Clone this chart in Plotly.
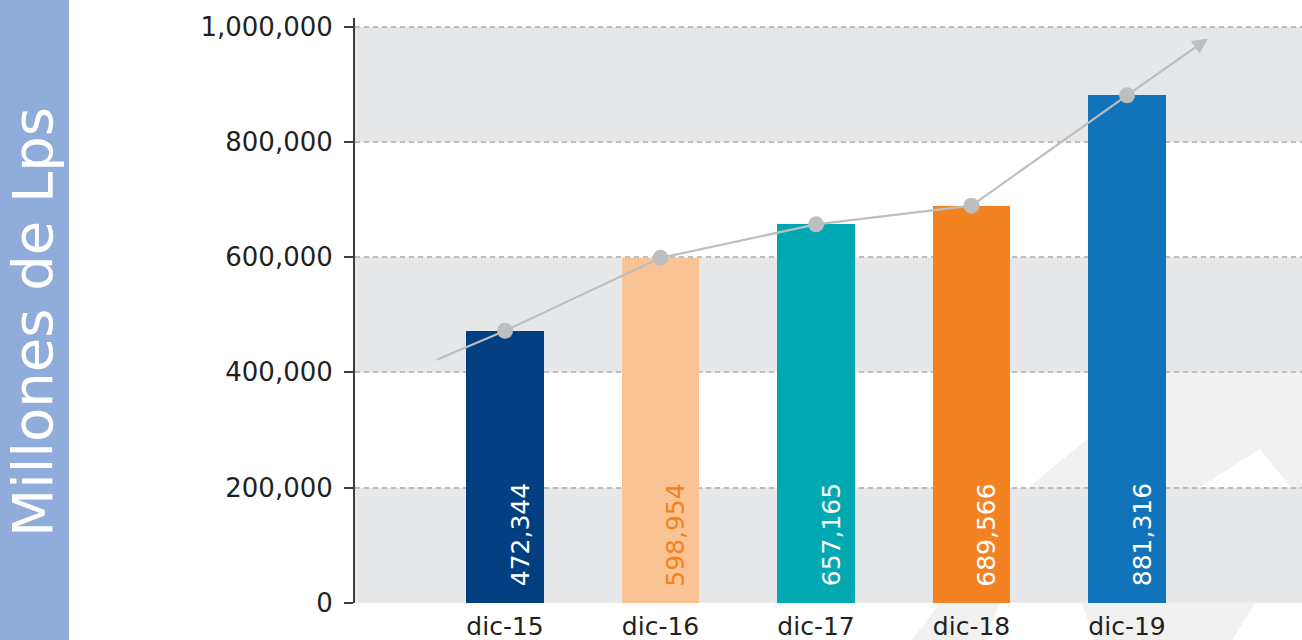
import plotly.graph_objects as go

categories = ["dic-15", "dic-16", "dic-17", "dic-18", "dic-19"]
values = [472344, 598954, 657165, 689566, 881316]
bar_colors = ["#023F80", "#F9C394", "#00A8B1", "#F38322", "#1174BB"]
label_colors = ["#FFFFFF", "#F58220", "#FFFFFF", "#FFFFFF", "#FFFFFF"]
y_ticks = [0, 200000, 400000, 600000, 800000, 1000000]
trend_start = (-0.44, 422000)
trend_end = (4.52, 980000)
y_title = "Millones de Lps"

W, H = 1302, 640
ML, MR, MT, MB = 355, 0, 18, 37
PW, PH = W - ML - MR, H - MT - MB

def px_x(p):
    return (p - ML) / PW

def px_y(p):
    return (H - MB - p) / PH

font_family = "DejaVu Sans"
xs = list(range(len(categories)))

fig = go.Figure()
fig.add_trace(go.Bar(x=xs, y=values, width=0.5, marker=dict(color=bar_colors, line=dict(width=0)),
                     hoverinfo="skip", showlegend=False))
fig.add_trace(go.Scatter(x=[trend_start[0]] + xs, y=[trend_start[1]] + values, mode="lines",
                         line=dict(color="#BCBEC0", width=2.2), showlegend=False, hoverinfo="skip"))
fig.add_trace(go.Scatter(x=xs, y=values, mode="markers",
                         marker=dict(color="#BCBEC0", size=16), showlegend=False, hoverinfo="skip"))

shapes = []
# left strip
shapes.append(dict(type="rect", xref="paper", yref="paper", x0=px_x(0), x1=px_x(69), y0=px_y(H), y1=px_y(0),
                   fillcolor="#8FACDA", line=dict(width=0), layer="below"))
# faint watermark shapes
def poly(points):
    d = "M " + " L ".join(f"{px_x(a):.5f},{px_y(b):.5f}" for a, b in points) + " Z"
    return dict(type="path", xref="paper", yref="paper", path=d, fillcolor="#F1F1F1",
                line=dict(width=0), layer="below")
shapes.append(poly([(1027, 489), (1168, 372), (1302, 372), (1302, 489), (1292, 489), (1260, 449), (1197, 489)]))
shapes.append(poly([(912, 640), (940, 603), (1000, 603), (985, 640)]))
shapes.append(poly([(1082, 603), (1255, 603), (1232, 640), (1095, 640)]))
# grey bands
for lo in [0, 400000, 800000]:
    shapes.append(dict(type="rect", xref="paper", yref="y", x0=0, x1=1, y0=lo, y1=lo + 200000,
                       fillcolor="#E6E7E9", line=dict(width=0), layer="below"))

annotations = []
for x, v, c in zip(xs, values, label_colors):
    annotations.append(dict(x=x, y=0, xref="x", yref="y", text=f"{v:,}", showarrow=False,
                            textangle=-90, xanchor="center", yanchor="bottom", xshift=15, yshift=14,
                            font=dict(family=font_family, size=25, color=c)))
annotations.append(dict(x=trend_end[0], y=trend_end[1], ax=xs[-1], ay=values[-1], xref="x", yref="y",
                        axref="x", ayref="y", text="", showarrow=True, arrowhead=2, arrowsize=1.4,
                        arrowwidth=2.2, arrowcolor="#BCBEC0"))
annotations.append(dict(x=px_x(33), y=px_y(322), xref="paper", yref="paper", text=y_title, showarrow=False,
                        textangle=-90, xanchor="center", yanchor="middle",
                        font=dict(family=font_family, size=56, color="#FFFFFF")))

fig.update_layout(
    width=W, height=H, margin=dict(l=ML, r=MR, t=MT, b=MB, pad=0, autoexpand=False),
    paper_bgcolor="#FFFFFF", plot_bgcolor="#FFFFFF",
    shapes=shapes, annotations=annotations, bargap=0,
    xaxis=dict(range=[-0.965, 5.125], tickvals=xs, ticktext=categories, showgrid=False, zeroline=False,
               showline=False, ticks="", tickfont=dict(family=font_family, size=25, color="#231F20"),
               ticklabelstandoff=6, automargin=False),
    yaxis=dict(range=[-600, 1015625], tickvals=y_ticks, tickformat=",", showgrid=True, gridcolor="#BCBEC0",
               gridwidth=1.5, griddash="5px,4px", zeroline=False, showline=True, linecolor="#3D3D3F",
               linewidth=2, ticks="outside", ticklen=9, tickwidth=2, tickcolor="#3D3D3F",
               tickfont=dict(family=font_family, size=26, color="#231F20"), ticklabelstandoff=6,
               automargin=False),
)
fig.write_html("out.html", config={"displayModeBar": False},
               post_script="document.body.style.margin='0';document.body.style.overflow='hidden';")
